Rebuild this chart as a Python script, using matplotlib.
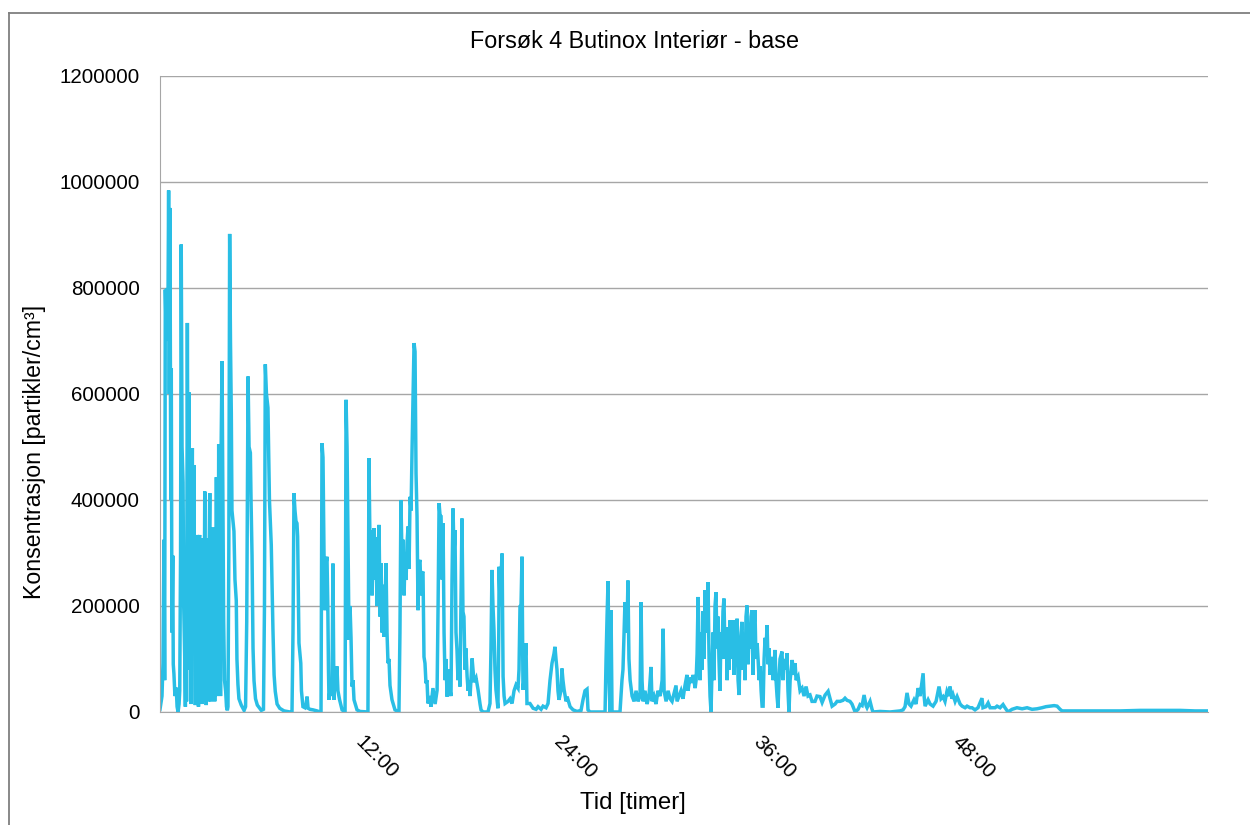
import matplotlib.pyplot as plt
from matplotlib.lines import Line2D
from matplotlib.ticker import FuncFormatter
from matplotlib.transforms import ScaledTranslation

plt.rcParams['font.family'] = ['Liberation Sans', 'DejaVu Sans']

# måletidspunkt [timer] og partikkelkonsentrasjon [1000 partikler/cm3]
tid = [
    0.00, 0.04, 0.12, 0.18, 0.24, 0.28, 0.32, 0.38, 0.44, 0.48, 0.52, 0.56, 0.60, 0.65, 0.68, 0.72,
    0.77, 0.80, 0.84, 0.90, 0.98, 1.03, 1.09, 1.15, 1.19, 1.24, 1.28, 1.33, 1.39, 1.43, 1.49, 1.53,
    1.57, 1.60, 1.65, 1.69, 1.75, 1.78, 1.83, 1.87, 1.90, 1.95, 1.99, 2.05, 2.08, 2.13, 2.17, 2.20,
    2.23, 2.26, 2.29, 2.32, 2.35, 2.39, 2.42, 2.46, 2.49, 2.52, 2.55, 2.58, 2.61, 2.64, 2.70, 2.73,
    2.76, 2.79, 2.83, 2.86, 2.89, 2.92, 2.96, 3.00, 3.03, 3.06, 3.09, 3.14, 3.17, 3.20, 3.23, 3.26,
    3.30, 3.34, 3.37, 3.40, 3.44, 3.47, 3.50, 3.54, 3.58, 3.62, 3.65, 3.68, 3.74, 3.79, 3.84, 3.89,
    3.96, 4.01, 4.06, 4.10, 4.15, 4.20, 4.25, 4.30, 4.34, 4.40, 4.46, 4.52, 4.60, 4.64, 4.70, 4.76,
    4.90, 5.07, 5.16, 5.23, 5.31, 5.37, 5.45, 5.49, 5.55, 5.61, 5.67, 5.76, 5.87, 6.11, 6.24, 6.30,
    6.35, 6.42, 6.51, 6.60, 6.71, 6.81, 6.88, 6.95, 7.06, 7.22, 7.48, 7.84, 7.96,
    8.02, 8.08, 8.14, 8.20, 8.26, 8.30, 8.35, 8.38, 8.44, 8.49, 8.53, 8.62, 8.74, 8.81, 8.87, 8.93,
    9.05, 9.23, 9.47, 9.65, 9.71, 9.74, 9.77, 9.83, 9.89, 9.95, 10.01, 10.07, 10.12, 10.16, 10.19,
    10.25, 10.31, 10.37, 10.43, 10.49, 10.55, 10.61, 10.67, 10.73, 10.83, 10.98, 11.16, 11.19, 11.22,
    11.28, 11.34, 11.37, 11.40, 11.46, 11.52, 11.58, 11.64, 11.70, 11.88, 12.06, 12.54, 12.57, 12.60,
    12.67, 12.73, 12.79, 12.85, 12.91, 12.97, 13.03, 13.09, 13.15, 13.21, 13.27, 13.33, 13.39, 13.45,
    13.51, 13.57, 13.63, 13.69, 13.75, 13.81, 13.87, 13.99, 14.17, 14.35, 14.41, 14.47, 14.53, 14.60,
    14.66, 14.72, 14.78, 14.84, 14.90, 14.96, 15.02, 15.08, 15.14, 15.20, 15.26, 15.32, 15.38, 15.44,
    15.50, 15.56, 15.62, 15.68, 15.74, 15.80, 15.86, 15.92, 15.98, 16.04, 16.10, 16.16, 16.28, 16.34,
    16.46, 16.59, 16.71, 16.77, 16.83, 16.89, 16.95, 17.01, 17.07, 17.13, 17.19, 17.25, 17.31, 17.37,
    17.49, 17.55, 17.61, 17.67, 17.73, 17.79, 17.85, 17.91, 17.97, 18.03, 18.09, 18.15, 18.21, 18.27,
    18.33, 18.39, 18.45, 18.52, 18.58, 18.64, 18.70, 18.82, 18.94, 19.06, 19.18, 19.30, 19.36, 19.48,
    19.78, 19.90, 19.96, 20.02, 20.08, 20.14, 20.20, 20.26, 20.38, 20.43, 20.45, 20.51, 20.57, 20.63,
    20.69, 20.75, 20.81, 20.99, 21.11, 21.23, 21.35, 21.47, 21.59, 21.65, 21.71, 21.77, 21.83, 21.89,
    21.95, 22.07, 22.13, 22.31, 22.50, 22.68, 22.80, 22.98, 23.10, 23.28, 23.40, 23.52, 23.64, 23.76,
    23.82, 23.88, 23.94, 24.00, 24.06, 24.18, 24.24, 24.30, 24.37, 24.49, 24.55, 24.73, 24.91, 25.15,
    25.39, 25.51, 25.63, 25.75, 25.81, 25.93, 26.72, 26.84, 26.90, 26.96, 27.02, 27.08, 27.14, 27.20,
    27.26, 27.32, 27.74, 27.80, 27.86, 27.92, 28.04, 28.16, 28.22, 28.28, 28.35, 28.47, 28.59, 28.71,
    28.83, 28.95, 29.01, 29.07, 29.13, 29.25, 29.37, 29.49, 29.61, 29.67, 29.79, 29.91, 30.03, 30.16,
    30.28, 30.34, 30.40, 30.52, 30.64, 30.76, 30.88, 31.00, 31.12, 31.18, 31.30, 31.42, 31.54, 31.66,
    31.78, 31.84, 31.96, 32.09, 32.15, 32.27, 32.33, 32.39, 32.45, 32.51, 32.57, 32.63, 32.69, 32.75,
    32.81, 32.87, 32.93, 32.99, 33.05, 33.11, 33.17, 33.23, 33.29, 33.35, 33.41, 33.47, 33.53, 33.59,
    33.65, 33.71, 33.77, 33.83, 33.89, 33.95, 34.01, 34.08, 34.14, 34.20, 34.26, 34.32, 34.38, 34.44,
    34.50, 34.56, 34.62, 34.68, 34.74, 34.80, 34.86, 34.92, 34.98, 35.04, 35.10, 35.16, 35.22, 35.28,
    35.34, 35.40, 35.46, 35.52, 35.58, 35.64, 35.70, 35.76, 35.82, 35.88, 35.94, 36.01, 36.07, 36.13,
    36.19, 36.25, 36.31, 36.37, 36.43, 36.49, 36.55, 36.61, 36.67, 36.73, 36.79, 36.91, 36.97, 37.03,
    37.09, 37.15, 37.21, 37.27, 37.33, 37.39, 37.51, 37.57, 37.63, 37.75, 37.81, 37.87, 37.93, 38.00,
    38.06, 38.12, 38.24, 38.30, 38.36, 38.48, 38.60, 38.72, 38.84, 38.96, 39.08, 39.20, 39.32, 39.50,
    39.62, 39.80, 39.93, 40.11, 40.29, 40.41, 40.53, 40.71, 40.83, 41.01, 41.19, 41.31, 41.43, 41.61,
    41.73, 41.92, 42.10, 42.22, 42.34, 42.46, 42.58, 42.64, 42.82, 42.94, 43.00, 43.42, 44.03, 44.63,
    44.81, 44.93, 45.05, 45.17, 45.29, 45.47, 45.59, 45.72, 45.84, 46.02, 46.08, 46.14, 46.32, 46.44,
    46.62, 46.80, 46.98, 47.10, 47.22, 47.34, 47.46, 47.58, 47.64, 47.76, 47.83, 47.95, 48.07, 48.25,
    48.37, 48.55, 48.67, 48.85, 48.97, 49.15, 49.33, 49.57, 49.63, 49.81, 49.94, 50.06, 50.18, 50.36,
    50.48, 50.66, 50.84, 50.96, 51.14, 51.38, 51.68, 51.99, 52.29, 52.59, 52.89, 53.19, 53.43, 53.67,
    53.92, 54.10, 54.28, 54.40, 55.49, 56.69, 57.90, 59.10, 59.52, 60.31, 61.51, 62.42, 63.21,
]
konsentrasjon_k = [
    5, 13, 30, 92, 325, 60, 797, 700, 800, 760, 984, 600, 951, 400, 649, 150,
    295, 90, 72, 30, 46, 10, 0, 15, 40, 300, 882, 500, 433, 200, 105, 10,
    260, 20, 734, 350, 603, 80, 170, 15, 280, 498, 120, 466, 200, 13, 250, 20,
    334, 40, 290, 10, 320, 334, 30, 300, 328, 15, 295, 40, 260, 20, 416, 60,
    280, 13, 250, 30, 328, 20, 290, 413, 40, 300, 20, 280, 30, 348, 60, 250,
    20, 300, 40, 443, 30, 320, 60, 505, 100, 300, 30, 480, 662, 400, 170, 60,
    39, 10, 3, 10, 300, 902, 700, 564, 380, 360, 341, 250, 210, 100, 52, 25,
    13, 3, 10, 170, 633, 500, 489, 400, 295, 120, 59, 25, 13, 3, 5, 200,
    656, 600, 574, 400, 315, 157, 70, 39, 15, 7, 2, 0, 0,
    150, 413, 380, 360, 356, 331, 200, 130, 110, 92, 40, 10, 8, 15, 29, 7,
    5, 4, 2, 0, 0, 250, 507, 480, 300, 192, 280, 293, 200, 80, 23,
    40, 60, 30, 280, 23, 60, 40, 86, 40, 23, 4, 0, 300, 589,
    500, 312, 200, 136, 200, 140, 48, 60, 23, 4, 1, 0, 200, 479,
    300, 343, 220, 281, 347, 250, 330, 200, 300, 353, 180, 281, 150, 240,
    142, 200, 281, 150, 92, 100, 50, 23, 4, 1, 0, 150, 400, 281,
    325, 220, 300, 249, 320, 350, 270, 406, 380, 494, 595, 696, 680, 450,
    369, 192, 281, 287, 220, 262, 265, 104, 92, 54, 60, 16, 30, 10,
    45, 15, 41, 200, 394, 370, 369, 250, 356, 150, 60, 100, 29, 80,
    40, 30, 250, 384, 300, 343, 150, 117, 60, 100, 48, 200, 365, 189,
    180, 80, 120, 67, 40, 60, 30, 101, 56, 64, 42, 15, 4, 0,
    0, 16, 120, 268, 200, 155, 80, 42, 7, 150, 274, 200, 260, 299,
    67, 30, 16, 20, 25, 16, 40, 51, 45, 80, 199, 200, 293, 42,
    60, 130, 16, 16, 7, 5, 10, 5, 11, 8, 16, 60, 92, 110,
    123, 100, 80, 40, 23, 40, 82, 60, 42, 20, 29, 10, 4, 1,
    3, 23, 40, 43, 4, 0, 0, 0, 100, 180, 247, 60, 0, 192,
    0, 0, 0, 30, 60, 80, 207, 150, 248, 100, 60, 30, 20, 40,
    20, 30, 207, 60, 20, 40, 15, 30, 85, 20, 30, 15, 40, 30,
    60, 157, 40, 20, 40, 25, 20, 35, 50, 20, 30, 40, 25, 50,
    70, 40, 65, 55, 70, 45, 60, 110, 217, 120, 60, 150, 80, 190,
    100, 230, 150, 200, 245, 100, 30, 0, 80, 150, 60, 200, 226, 120,
    180, 98, 40, 150, 100, 190, 214, 100, 160, 60, 140, 80, 173, 100,
    150, 173, 70, 130, 90, 176, 60, 32, 120, 150, 170, 80, 140, 60,
    180, 201, 90, 150, 120, 180, 192, 70, 160, 192, 100, 130, 98, 60,
    86, 40, 11, 11, 100, 140, 120, 164, 90, 120, 70, 104, 60, 90,
    117, 60, 30, 8, 60, 100, 114, 60, 100, 80, 111, 40, 0, 60,
    80, 98, 70, 92, 60, 67, 40, 45, 30, 48, 30, 32, 20, 20,
    30, 29, 18, 32, 39, 25, 11, 15, 20, 20, 22, 26, 22, 20,
    15, 0, 5, 14, 12, 32, 12, 8, 20, 5, 0, 1, 0, 2,
    4, 10, 36, 15, 11, 23, 15, 45, 30, 73, 30, 11, 23, 15,
    11, 20, 48, 25, 29, 20, 39, 30, 48, 25, 32, 20, 29, 15,
    11, 8, 11, 8, 8, 4, 8, 26, 8, 10, 17, 8, 8, 8,
    11, 8, 14, 8, 0, 5, 8, 6, 8, 5, 6, 8, 10, 11,
    12, 11, 5, 2, 2, 2, 2, 3, 3, 3, 3, 2, 2,
]
konsentrasjon = [k * 1000 for k in konsentrasjon_k]

x_ticks = [12, 24, 36, 48]
x_labels = ["12:00", "24:00", "36:00", "48:00"]
y_ticks = [0, 200000, 400000, 600000, 800000, 1000000, 1200000]

fig = plt.figure(figsize=(12.5, 8.25), dpi=100)
ax = fig.add_axes([0.128, 0.137, 0.8384, 0.7709])

ax.plot(tid, konsentrasjon, color='#29BEE5', lw=2.5, solid_joinstyle='miter')

ax.set_xlim(0, 63.2)
ax.set_ylim(0, 1200000)
ax.set_yticks(y_ticks)
ax.yaxis.set_major_formatter(FuncFormatter(lambda v, p: f"{int(v)}"))
ax.set_xticks(x_ticks)
ax.set_xticklabels(x_labels, rotation=-45, ha='left', va='top', rotation_mode='anchor')

ax.grid(axis='y', color='#A6A6A6', lw=1.0)
ax.set_axisbelow(True)
for side in ['top', 'right']:
    ax.spines[side].set_visible(False)
ax.spines['left'].set_color('#A6A6A6')
ax.spines['bottom'].set_color('#A6A6A6')
ax.tick_params(axis='both', length=0, labelsize=14.8, colors='black')
ax.tick_params(axis='y', pad=14.5)
ax.tick_params(axis='x', pad=15)

# flytt de skrå etikettene litt mot høyre (etter tick_params, som nullstiller transformen)
skift = ScaledTranslation(6 / 100, 0, fig.dpi_scale_trans)
for lbl in ax.get_xticklabels():
    lbl.set_transform(lbl.get_transform() + skift)

fig.text(0.508, 1 - 42 / 825, "Forsøk 4 Butinox Interiør - base", ha='center', va='center', fontsize=16.8)
fig.text(0.506, 1 - 803 / 825, "Tid [timer]", ha='center', va='center', fontsize=17.3)
fig.text(35 / 1250, 1 - 452 / 825, "Konsentrasjon [partikler/cm³]", ha='center', va='center',
         rotation=90, fontsize=16.7)

# ramme rundt diagrammet
fig.add_artist(Line2D([9 / 1250, 9 / 1250], [0, 1 - 13 / 825], transform=fig.transFigure,
                      color='#7F7F7F', lw=1.3))
fig.add_artist(Line2D([9 / 1250, 1], [1 - 13 / 825, 1 - 13 / 825], transform=fig.transFigure,
                      color='#7F7F7F', lw=1.3))

fig.savefig("out.png", dpi=100)
